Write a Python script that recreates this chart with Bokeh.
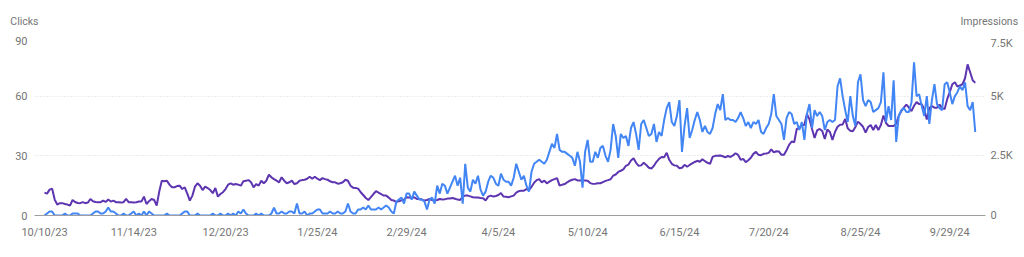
import pandas as pd
from bokeh.plotting import figure
from bokeh.layouts import column
from bokeh.models import Range1d, LinearAxis, FixedTicker, ColumnDataSource
from bokeh.embed import file_html
from bokeh.resources import INLINE

start_date = "2023-10-10"

clicks = [
    0,1,2,2,0,0,0,0,1,0,
    0,1,1,1,0,0,0,0,0,1,
    2,2,1,1,2,4,2,2,1,0,
    0,1,0,0,1,2,0,1,0,2,
    0,2,1,0,0,0,0,0,1,0,
    0,0,0,0,1,2,2,0,0,0,
    1,0,0,0,0,0,1,0,0,1,
    0,0,1,0,1,0,2,1,3,1,
    0,0,0,1,0,1,0,0,0,1,
    4,1,1,2,1,1,2,2,1,6,
    1,1,2,0,1,1,2,3,3,1,
    1,1,2,1,1,2,1,1,2,6,
    2,1,1,3,3,4,3,5,3,3,
    3,4,3,4,5,4,2,1,7,8,
    9,6,11,11,8,12,10,8,8,7,
    3,8,9,6,15,11,16,15,11,14,
    17,20,15,19,6,26,14,12,18,16,
    20,13,10,12,17,20,19,16,15,21,
    18,17,17,15,19,26,22,18,20,15,
    12,22,26,27,28,27,26,28,32,36,
    34,41,33,32,32,31,30,29,25,32,
    27,14,32,38,27,27,32,29,34,35,
    30,27,33,46,40,29,41,39,40,35,
    44,47,41,33,46,48,44,40,41,46,
    37,42,40,48,54,57,47,45,50,58,
    32,45,54,39,43,48,52,48,42,45,
    42,41,44,51,56,53,61,48,49,48,
    48,47,49,52,49,45,47,44,47,46,
    48,42,41,44,46,51,61,50,48,46,
    38,49,52,51,46,47,43,47,38,51,
    56,44,53,50,52,50,43,47,48,47,
    48,65,69,60,53,47,60,50,45,67,
    71,58,55,58,57,52,53,54,57,72,
    47,55,48,68,37,50,53,54,52,52,
    57,77,60,61,55,50,60,46,58,66,
    56,54,53,66,67,62,56,60,62,65,
    63,67,55,53,57,42,
]

impressions = [
    958,917,1083,1125,667,458,517,517,483,458,
    417,650,567,525,517,558,517,542,692,600,
    567,558,558,625,567,667,583,625,558,558,
    542,558,692,558,558,542,558,583,583,792,
    483,600,692,650,417,1000,1458,1433,1458,1292,
    1183,1183,1233,1250,1108,1183,917,625,833,1208,
    1350,1250,1067,1208,1150,1067,933,1150,792,900,
    975,1108,1292,1350,1292,1317,1292,1250,1433,1458,
    1483,1392,1183,1317,1250,1458,1350,1458,1708,1600,
    1525,1458,1392,1600,1458,1350,1392,1458,1317,1350,
    1458,1483,1500,1542,1625,1542,1625,1542,1483,1567,
    1525,1500,1433,1392,1392,1333,1350,1392,1500,1458,
    1250,1167,1150,1125,975,858,733,650,767,900,
    1017,958,900,833,833,750,650,625,558,600,
    633,667,767,750,733,767,692,692,667,625,
    650,692,650,625,650,692,667,683,708,717,
    733,700,667,650,792,833,833,800,767,750,
    750,733,725,625,792,833,792,817,858,942,
    792,783,767,800,833,958,1017,1042,1042,1108,
    1067,1208,1375,1483,1525,1392,1458,1350,1417,1483,
    1525,1567,1250,1292,1317,1392,1458,1500,1525,1467,
    1467,1467,1467,1458,1358,1325,1333,1350,1350,1400,
    1450,1483,1517,1667,1717,1825,1875,1933,2083,2133,
    2308,2400,2208,2083,2100,2208,2117,2000,1967,2083,
    2250,2375,2450,2442,2625,2333,2167,2100,2083,1983,
    2000,2125,2042,2117,2183,2242,2292,2250,2358,2275,
    2208,2167,2458,2500,2500,2517,2483,2433,2500,2450,
    2517,2608,2542,2333,2375,2233,2317,2417,2583,2667,
    2542,2525,2583,2600,2625,2767,2642,2692,2683,2542,
    2542,2733,2958,3100,3067,3625,3667,3767,3800,4250,
    4025,3625,3250,3567,3625,3542,3208,3608,3500,3167,
    3500,3717,3800,3817,4042,3650,3550,3525,3708,3933,
    3833,3717,3475,3708,3792,3583,3792,3583,3792,4192,
    3875,3750,3750,3750,3850,4167,4375,4517,4650,4517,
    4375,4600,4750,4667,4667,4458,4017,4500,4583,4517,
    4517,4642,4500,4458,4875,5167,5500,5583,5400,5450,
    5500,5750,6333,6000,5667,5558,
]

x_tick_labels = ["10/10/23", "11/14/23", "12/20/23", "1/25/24", "2/29/24", "4/5/24",
                 "5/10/24", "6/15/24", "7/20/24", "8/25/24", "9/29/24"]
left_ticks = [0, 30, 60, 90]
right_ticks = [0, 2500, 5000, 7500]
right_tick_labels = ["0", "2.5K", "5K", "7.5K"]
left_title = "Clicks"
right_title = "Impressions"

n = len(clicks)
start = pd.Timestamp(start_date)
days = list(range(n))
tick_days = [int((pd.to_datetime(t, format="%m/%d/%y") - start).days) for t in x_tick_labels]

src = ColumnDataSource(dict(day=days, clicks=clicks, impressions=impressions))

FONT = "Roboto"
LABEL_COLOR = "#757575"
W = 1024
HEADER_H = 36
BORDER_L, BORDER_R = 34, 39


def style_axis(ax, standoff, size="11px"):
    ax.axis_line_color = None
    ax.major_tick_line_color = None
    ax.minor_tick_line_color = None
    ax.major_tick_out = 0
    ax.major_tick_in = 0
    ax.minor_tick_out = 0
    ax.minor_tick_in = 0
    ax.major_label_standoff = standoff
    ax.major_label_text_font = FONT
    ax.major_label_text_font_size = size
    ax.major_label_text_color = LABEL_COLOR


# header strip: the two axis titles drawn as single-tick axis labels
h = figure(width=W, height=HEADER_H, output_backend="svg", toolbar_location=None,
           x_range=Range1d(0, 1), y_range=Range1d(0, HEADER_H),
           x_axis_type=None, y_axis_location=None,
           min_border_left=BORDER_L, min_border_right=BORDER_R,
           min_border_top=0, min_border_bottom=0)
h.outline_line_color = None
h.grid.visible = False
title_tick = [HEADER_H - 21]
hl = LinearAxis(ticker=FixedTicker(ticks=title_tick),
                major_label_overrides={title_tick[0]: left_title})
style_axis(hl, -4, "10.5px")
h.add_layout(hl, "left")
hr = LinearAxis(ticker=FixedTicker(ticks=title_tick),
                major_label_overrides={title_tick[0]: right_title})
style_axis(hr, -25, "10.5px")
h.add_layout(hr, "right")

p = figure(width=W, height=257 - HEADER_H, output_backend="svg", toolbar_location=None,
           x_range=Range1d(-3.92, n - 1 + 4.02), y_range=Range1d(0, 90),
           min_border_left=BORDER_L, min_border_right=BORDER_R,
           min_border_top=0, min_border_bottom=42)
p.outline_line_color = None
p.background_fill_color = "white"
p.border_fill_color = "white"

p.extra_y_ranges = {"imp": Range1d(0, 7500)}

p.line("day", "impressions", source=src, y_range_name="imp", color="#5e35b1", line_width=2)
p.line("day", "clicks", source=src, color="#4285f4", line_width=2)

ya = p.yaxis[0]
ya.ticker = FixedTicker(ticks=left_ticks)
style_axis(ya, 7)

ra = LinearAxis(y_range_name="imp", ticker=FixedTicker(ticks=right_ticks),
                major_label_overrides={t: l for t, l in zip(right_ticks, right_tick_labels)})
style_axis(ra, 5)
p.add_layout(ra, "right")

xa = p.xaxis[0]
xa.ticker = FixedTicker(ticks=tick_days)
xa.major_label_overrides = {d: l for d, l in zip(tick_days, x_tick_labels)}
style_axis(xa, 10)
xa.axis_line_color = "#9e9e9e"
xa.axis_line_width = 1

p.xgrid.grid_line_color = None
p.ygrid.grid_line_color = "#dadce0"
p.ygrid.grid_line_dash = "1 2"
p.ygrid.grid_line_width = 1

layout = column(h, p, spacing=0)
open("out.html", "w").write(file_html(layout, INLINE))
